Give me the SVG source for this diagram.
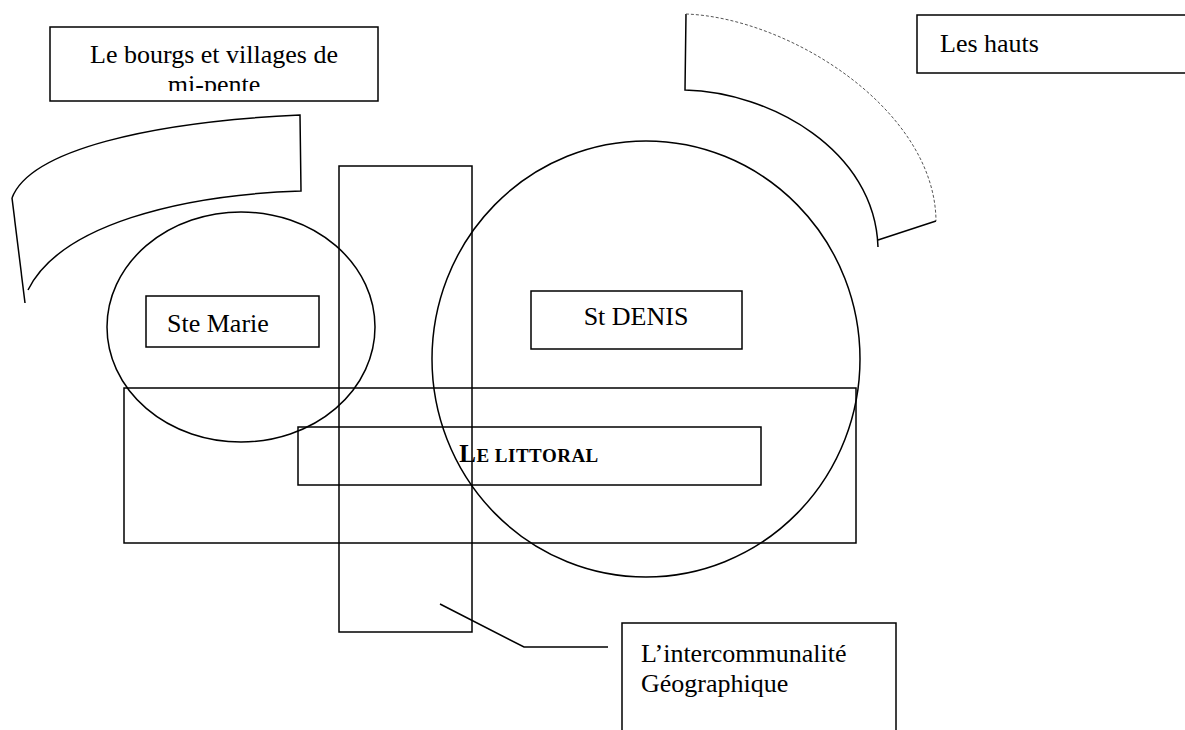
<svg xmlns="http://www.w3.org/2000/svg" width="1185" height="730" viewBox="0 0 1185 730">
  <style>
    .s { fill: none; stroke: #000; stroke-width: 1.5; }
    .t { font-family: "Liberation Serif", "Times New Roman", serif; font-size: 26px; fill: #000; }
    .faint { fill: none; stroke: #555; stroke-width: 1; stroke-dasharray: 3 2; }
  </style>
  <defs>
    <clipPath id="clipBourgs">
      <rect x="50" y="27" width="328" height="64"/>
    </clipPath>
  </defs>
  <rect width="1185" height="730" fill="#fff"/>

  <g id="band-mi-pente">
    <path class="s" d="M12,198 C30,150 150,122 300,115 L301,191 C180,195 60,225 28,290"/>
    <line class="s" x1="12" y1="198" x2="25" y2="303"/>
  </g>

  <g id="band-hauts">
    <path class="s" d="M686,14 L685,90 C770,92 875,150 878,247"/>
    <path class="faint" d="M686,14 C790,18 935,110 936,221"/>
    <line class="s" x1="878" y1="240" x2="936" y2="221"/>
  </g>

  <g id="bourgs-label">
    <rect class="s" x="50" y="27" width="328" height="74"/>
    <g clip-path="url(#clipBourgs)">
      <text class="t" x="214" y="63" text-anchor="middle">Le bourgs et villages de</text>
      <text class="t" x="214" y="93" text-anchor="middle">mi-pente</text>
    </g>
  </g>

  <g id="hauts-label">
    <rect class="s" x="917" y="15" width="280" height="58"/>
    <text class="t" x="940" y="52">Les hauts</text>
  </g>

  <g id="ste-marie">
    <ellipse class="s" cx="241" cy="327" rx="134" ry="115"/>
    <rect class="s" x="146" y="296" width="173" height="51"/>
    <text class="t" x="167" y="332">Ste Marie</text>
  </g>

  <g id="st-denis">
    <ellipse class="s" cx="646" cy="359" rx="214" ry="218"/>
    <rect class="s" x="531" y="291" width="211" height="58"/>
    <text class="t" x="636" y="325" text-anchor="middle">St DENIS</text>
  </g>

  <g id="intercommunalite-zone">
    <rect class="s" x="339" y="166" width="133" height="466"/>
  </g>

  <g id="littoral-zone">
    <rect class="s" x="124" y="388" width="732" height="155"/>
  </g>

  <g id="littoral-label">
    <rect class="s" x="298" y="427" width="463" height="58"/>
    <text class="t" x="529" y="462" text-anchor="middle" font-weight="bold" letter-spacing="0.5"><tspan font-size="25">L</tspan><tspan font-size="19">E LITTORAL</tspan></text>
  </g>

  <g id="intercommunalite-label">
    <rect class="s" x="622" y="623" width="274" height="120"/>
    <text class="t" x="641" y="662">L’intercommunalité</text>
    <text class="t" x="641" y="692">Géographique</text>
  </g>

  <g id="connectors">
    <polyline class="s" points="440,604 524,647 608,647"/>
  </g>
</svg>
